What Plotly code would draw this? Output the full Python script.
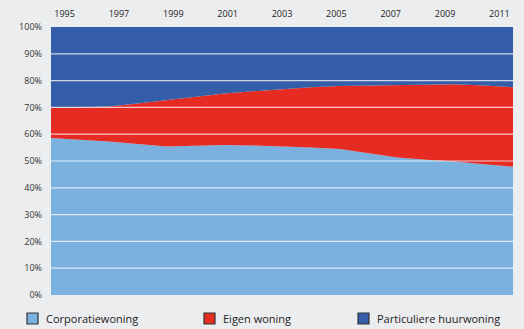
import plotly.graph_objects as go

years = list(range(1995, 2012))
corporatie = [58.6, 58.0, 57.3, 56.3, 55.4, 55.7, 56.0, 55.8, 55.5, 55.0, 54.5, 53.0, 51.3, 50.5, 49.8, 48.8, 47.9]
cum_top = [69.8, 70.0, 70.3, 71.5, 72.8, 74.0, 75.2, 76.0, 76.8, 77.5, 78.0, 78.2, 78.4, 78.5, 78.6, 78.2, 77.5]
eigen = [round(t - c, 1) for t, c in zip(cum_top, corporatie)]
particulier = [round(100 - t, 1) for t in cum_top]
names = ["Corporatiewoning", "Eigen woning", "Particuliere huurwoning"]
colors = ["#7ab1df", "#e52b22", "#355ea9"]
tick_years = list(range(1995, 2012, 2))
y_ticks = list(range(0, 101, 10))

# legend layout (pixel positions of legend squares)
L, R, T, B = 51, 11, 27, 34
W, H = 524, 329
pw, ph = W - L - R, H - T - B
legend_px = [27, 204, 358]
legend_py = 318.5

fig = go.Figure()
for name, vals, col in zip(names, [corporatie, eigen, particulier], colors):
    fig.add_trace(go.Scatter(
        x=years, y=vals, name=name, stackgroup="one", mode="lines",
        line=dict(width=0, color=col), fillcolor=col, hoverinfo="skip",
        showlegend=False,
    ))

# helper invisible trace for top year labels axis
fig.add_trace(go.Scatter(x=tick_years, y=[0] * len(tick_years), xaxis="x2",
                         mode="markers", marker=dict(opacity=0), showlegend=False,
                         hoverinfo="skip"))

for v in y_ticks[1:-1]:
    fig.add_shape(type="line", xref="paper", x0=0, x1=1, yref="y", y0=v, y1=v,
                  line=dict(color="rgba(255,255,255,0.75)", width=1.2), layer="above")

for name, col, px in zip(names, colors, legend_px):
    x0 = (px - L) / pw
    x1 = (px + 11 - L) / pw
    y0 = (H - B - (legend_py + 5.5)) / ph
    y1 = (H - B - (legend_py - 5.5)) / ph
    fig.add_shape(type="rect", xref="paper", yref="paper", x0=x0, x1=x1, y0=y0, y1=y1,
                  fillcolor=col, line=dict(color="#333333", width=1.2))
    fig.add_annotation(xref="paper", yref="paper", x=(px + 17 - L) / pw,
                       y=(H - B - legend_py) / ph, text=name, showarrow=False,
                       xanchor="left", yanchor="middle",
                       font=dict(size=11, color="#222222"))

fig.update_layout(
    width=W, height=H,
    margin=dict(l=L, r=R, t=T, b=B, autoexpand=False),
    paper_bgcolor="#ecedef", plot_bgcolor="#ecedef",
    font=dict(family="Open Sans, sans-serif", color="#333333"),
    xaxis=dict(range=[1995, 2011], showgrid=False, showticklabels=False,
               zeroline=False, showline=False, ticks=""),
    xaxis2=dict(range=[1994.5, 2011.5], overlaying="x", side="top",
                tickvals=tick_years, ticktext=[str(y) for y in tick_years],
                showgrid=False, zeroline=False, showline=False, ticks="",
                tickfont=dict(size=9, color="#222222"), anchor="y",
                ticklabelstandoff=7),
    yaxis=dict(range=[0, 100], tickvals=y_ticks,
               ticktext=[f"{v}%" for v in y_ticks], showgrid=False,
               zeroline=False, ticks="", tickfont=dict(size=9, color="#333333"),
               ticklabelstandoff=8),
    showlegend=False,
)

fig.write_html("out.html")
